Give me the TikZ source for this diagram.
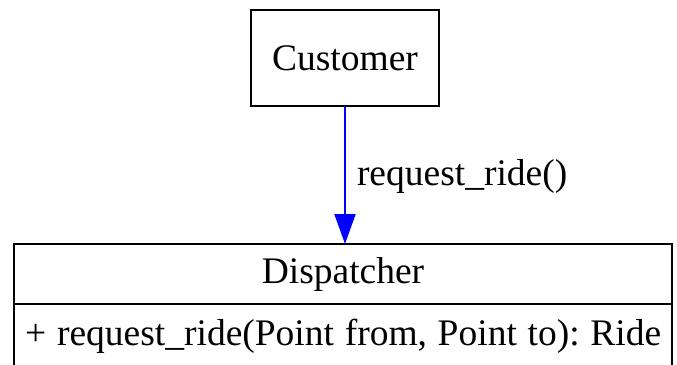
\documentclass[tikz,border=0pt]{standalone}
\usepackage{fontspec}
\setmainfont{Liberation Serif}
\frenchspacing
\usetikzlibrary{arrows.meta}
\begin{document}
\begin{tikzpicture}[x=1pt,y=-1pt,
  box/.style={draw=black, line width=2pt, inner sep=0pt, outer sep=0pt},
  lbl/.style={font=\fontsize{37.5}{40}\selectfont, inner sep=0pt},
  call/.style={draw=blue, line width=2pt, -{Triangle[length=30pt,width=21pt,fill=blue]}}]
\useasboundingbox (0,0) rectangle (677,364);
% client class
\node[box, lbl, minimum width=188pt, minimum height=96.5pt] (customer) at (345,58) {Customer};
% dispatcher class: name compartment and operations compartment
\node[box, lbl, minimum width=658pt, minimum height=60pt] (disp) at (343,274) {Dispatcher};
\node[box, anchor=north, minimum width=658pt, minimum height=64pt] (ops) at (disp.south) {};
\node[lbl, anchor=base west] (opstext) at (25,345) {\spaceskip=10.7pt\relax + request\_ride(Point from, Point to): Ride};
% call from the customer to the dispatcher
\draw[call] (customer.south) -- (disp.north -| customer.south)
  node[lbl, midway, anchor=base west, xshift=11pt, yshift=-10pt] (calllbl) {request\_ride()};
\end{tikzpicture}
\end{document}
